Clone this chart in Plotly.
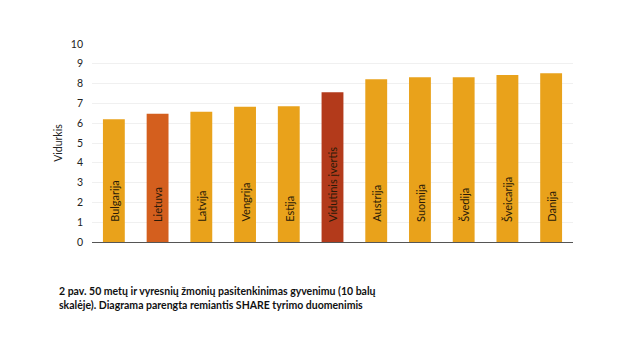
import plotly.graph_objects as go

categories = ["Bulgarija", "Lietuva", "Latvija", "Vengrija", "Estija", "Vidutinis įvertis",
              "Austrija", "Suomija", "Švedija", "Šveicarija", "Danija"]
values = [6.2, 6.48, 6.58, 6.83, 6.85, 7.56, 8.22, 8.32, 8.32, 8.43, 8.52]
colors = ["#E9A21B", "#D45F1E", "#E9A21B", "#E9A21B", "#E9A21B", "#B33A1B",
          "#E9A21B", "#E9A21B", "#E9A21B", "#E9A21B", "#E9A21B"]
y_ticks = list(range(0, 11))
caption_lines = ["2 pav. 50 metų ir vyresnių žmonių pasitenkinimas gyvenimu (10 balų",
                 "skalėje). Diagrama parengta remiantis SHARE tyrimo duomenimis"]

fig = go.Figure(go.Bar(
    x=categories, y=values,
    marker=dict(color=colors, line=dict(width=0)),
    width=0.5,
    hoverinfo="skip",
))

annotations = []
for c in categories:
    annotations.append(dict(
        x=c, y=0, xref="x", yref="y", text=c, textangle=-90,
        xanchor="center", yanchor="bottom", yshift=18, showarrow=False,
        font=dict(size=11, color="#2a1a08", family="Lato"),
    ))

plot_h = 343 - 44 - 101
plot_w = 642 - 92 - 69
for i, line in enumerate(caption_lines):
    center_y = 291 + i * 13.5
    annotations.append(dict(
        text="<b>" + line + "</b>",
        xref="paper", yref="paper",
        x=(57 - 92) / plot_w, y=(343 - 101 - center_y) / plot_h,
        xanchor="left", yanchor="middle", align="left", showarrow=False,
        font=dict(size=10.5, color="#111111", family="Lato"),
    ))

fig.update_layout(
    width=642, height=343,
    margin=dict(l=92, r=69, t=44, b=101),
    paper_bgcolor="white", plot_bgcolor="white",
    font=dict(family="Lato", color="#222222", size=10),
    showlegend=False,
    xaxis=dict(showticklabels=False, showgrid=False, showline=True,
               linecolor="#555555", linewidth=1, ticks="", zeroline=False),
    yaxis=dict(range=[0, 10], tickvals=y_ticks, showgrid=True, gridcolor="#f0f0f0",
               gridwidth=1, zeroline=False, showline=False, ticks="",
               ticklabelstandoff=8, tickfont=dict(size=10.5, color="#222222"),
               title=dict(text="Vidurkis", font=dict(size=10.5, color="#222222"), standoff=6)),
    annotations=annotations,
)

fig.write_html("out.html")
